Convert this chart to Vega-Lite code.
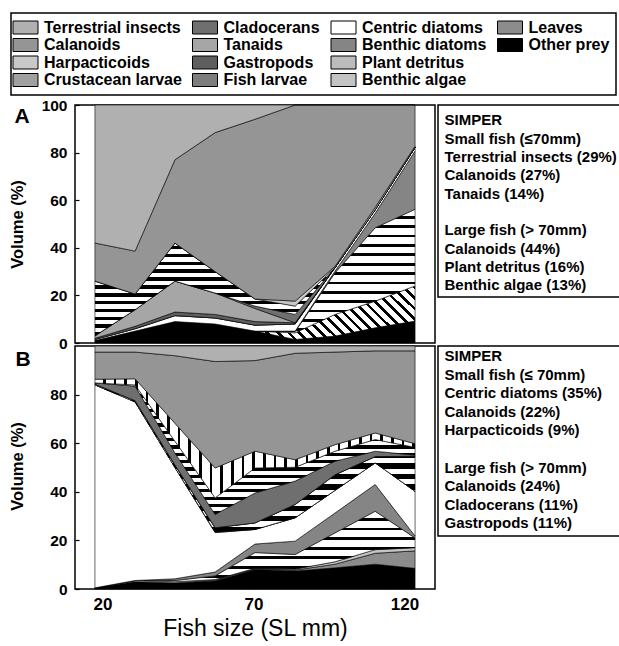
{
  "$schema": "https://vega.github.io/schema/vega-lite/v6.json",
  "background": "white",
  "padding": {"left": 8, "top": 12, "right": 0, "bottom": 0},
  "columns": 2,
  "spacing": {"row": 3, "column": 3},
  "bounds": "flush",
  "align": "each",
  "resolve": {"scale": {"fill": "shared"}, "legend": {"fill": "shared"}},
  "config": {
    "font": "Liberation Sans",
    "view": {"stroke": "black", "strokeWidth": 1.5},
    "axis": {"domain": false, "grid": false, "labelColor": "black", "titleColor": "black", "tickColor": "black", "labelFont": "Liberation Sans", "titleFont": "Liberation Sans"}
  },
  "datasets": {
    "stackOrder": [
      {"prey": "Other prey", "k": 0}, {"prey": "Leaves", "k": 1}, {"prey": "Benthic algae", "k": 2},
      {"prey": "Plant detritus", "k": 3}, {"prey": "Benthic diatoms", "k": 4}, {"prey": "Centric diatoms", "k": 5},
      {"prey": "Fish larvae", "k": 6}, {"prey": "Gastropods", "k": 7}, {"prey": "Tanaids", "k": 8},
      {"prey": "Cladocerans", "k": 9}, {"prey": "Crustacean larvae", "k": 10}, {"prey": "Harpacticoids", "k": 11},
      {"prey": "Calanoids", "k": 12}, {"prey": "Terrestrial insects", "k": 13}
    ],
    "panelA": [
      {"size": 17.5, "Other prey": 1, "Leaves": 0, "Benthic algae": 0, "Plant detritus": 0, "Benthic diatoms": 0, "Centric diatoms": 0.5, "Fish larvae": 0, "Gastropods": 0.5, "Tanaids": 1, "Cladocerans": 0, "Crustacean larvae": 23, "Harpacticoids": 0, "Calanoids": 16, "Terrestrial insects": 58},
      {"size": 30.8, "Other prey": 5, "Leaves": 0, "Benthic algae": 0, "Plant detritus": 0, "Benthic diatoms": 0, "Centric diatoms": 1, "Fish larvae": 0, "Gastropods": 1, "Tanaids": 7, "Cladocerans": 0, "Crustacean larvae": 6.6, "Harpacticoids": 0, "Calanoids": 18, "Terrestrial insects": 61.4},
      {"size": 44, "Other prey": 9, "Leaves": 0, "Benthic algae": 0, "Plant detritus": 0, "Benthic diatoms": 0, "Centric diatoms": 2.5, "Fish larvae": 0, "Gastropods": 1.5, "Tanaids": 13, "Cladocerans": 0, "Crustacean larvae": 16, "Harpacticoids": 0, "Calanoids": 35, "Terrestrial insects": 23},
      {"size": 57.3, "Other prey": 8, "Leaves": 0, "Benthic algae": 0, "Plant detritus": 0, "Benthic diatoms": 0, "Centric diatoms": 2.5, "Fish larvae": 0, "Gastropods": 1.5, "Tanaids": 9, "Cladocerans": 0, "Crustacean larvae": 9, "Harpacticoids": 0, "Calanoids": 58.4, "Terrestrial insects": 11.6},
      {"size": 70.5, "Other prey": 5, "Leaves": 0, "Benthic algae": 0, "Plant detritus": 0, "Benthic diatoms": 0, "Centric diatoms": 2.5, "Fish larvae": 0, "Gastropods": 1.5, "Tanaids": 5.5, "Cladocerans": 1, "Crustacean larvae": 3, "Harpacticoids": 0, "Calanoids": 75.5, "Terrestrial insects": 6},
      {"size": 83.8, "Other prey": 1.5, "Leaves": 0, "Benthic algae": 2.8, "Plant detritus": 0.5, "Benthic diatoms": 0.2, "Centric diatoms": 3, "Fish larvae": 0, "Gastropods": 0.5, "Tanaids": 0, "Cladocerans": 3.5, "Crustacean larvae": 3.5, "Harpacticoids": 2.1, "Calanoids": 82.4, "Terrestrial insects": 0},
      {"size": 97, "Other prey": 2.9, "Leaves": 0, "Benthic algae": 9.1, "Plant detritus": 17.5, "Benthic diatoms": 0.7, "Centric diatoms": 1.5, "Fish larvae": 0, "Gastropods": 0, "Tanaids": 0, "Cladocerans": 0, "Crustacean larvae": 0, "Harpacticoids": 0.5, "Calanoids": 67.8, "Terrestrial insects": 0},
      {"size": 110.3, "Other prey": 6.4, "Leaves": 0, "Benthic algae": 11.2, "Plant detritus": 30.8, "Benthic diatoms": 6.1, "Centric diatoms": 1.5, "Fish larvae": 0, "Gastropods": 0, "Tanaids": 0, "Cladocerans": 0, "Crustacean larvae": 0, "Harpacticoids": 1, "Calanoids": 43, "Terrestrial insects": 0},
      {"size": 123.5, "Other prey": 9.2, "Leaves": 0, "Benthic algae": 14.8, "Plant detritus": 32.2, "Benthic diatoms": 24.5, "Centric diatoms": 1.5, "Fish larvae": 0, "Gastropods": 0, "Tanaids": 0, "Cladocerans": 0, "Crustacean larvae": 0, "Harpacticoids": 0.5, "Calanoids": 17.3, "Terrestrial insects": 0}
    ],
    "panelB": [
      {"size": 17.5, "Other prey": 0.5, "Leaves": 0, "Benthic algae": 0, "Plant detritus": 0, "Benthic diatoms": 0, "Centric diatoms": 83.5, "Fish larvae": 0, "Gastropods": 0.3, "Tanaids": 0, "Cladocerans": 0.5, "Crustacean larvae": 0, "Harpacticoids": 1.5, "Calanoids": 11.2, "Terrestrial insects": 2.5},
      {"size": 30.8, "Other prey": 3, "Leaves": 0, "Benthic algae": 0.5, "Plant detritus": 0, "Benthic diatoms": 0, "Centric diatoms": 73.5, "Fish larvae": 0, "Gastropods": 0.5, "Tanaids": 0, "Cladocerans": 6, "Crustacean larvae": 0.5, "Harpacticoids": 2.5, "Calanoids": 11, "Terrestrial insects": 2.5},
      {"size": 44, "Other prey": 2.5, "Leaves": 0, "Benthic algae": 0.5, "Plant detritus": 0.5, "Benthic diatoms": 0.7, "Centric diatoms": 45.8, "Fish larvae": 0, "Gastropods": 1, "Tanaids": 0, "Cladocerans": 5, "Crustacean larvae": 4.8, "Harpacticoids": 7.4, "Calanoids": 27.8, "Terrestrial insects": 4},
      {"size": 57.3, "Other prey": 3.3, "Leaves": 0.3, "Benthic algae": 0.3, "Plant detritus": 1.5, "Benthic diatoms": 1.6, "Centric diatoms": 16.2, "Fish larvae": 0.3, "Gastropods": 1.7, "Tanaids": 0, "Cladocerans": 5.5, "Crustacean larvae": 6.8, "Harpacticoids": 12.3, "Calanoids": 43.8, "Terrestrial insects": 6.4},
      {"size": 70.5, "Other prey": 8, "Leaves": 0.3, "Benthic algae": 0.2, "Plant detritus": 6.5, "Benthic diatoms": 3.5, "Centric diatoms": 6, "Fish larvae": 0, "Gastropods": 2.7, "Tanaids": 0, "Cladocerans": 12.3, "Crustacean larvae": 10.3, "Harpacticoids": 6.9, "Calanoids": 37.3, "Terrestrial insects": 6},
      {"size": 83.8, "Other prey": 7.4, "Leaves": 0.4, "Benthic algae": 0.4, "Plant detritus": 6, "Benthic diatoms": 5.5, "Centric diatoms": 9.6, "Fish larvae": 0, "Gastropods": 5.5, "Tanaids": 0, "Cladocerans": 9.6, "Crustacean larvae": 5.7, "Harpacticoids": 3.1, "Calanoids": 43.8, "Terrestrial insects": 3},
      {"size": 97, "Other prey": 8.7, "Leaves": 1.5, "Benthic algae": 1, "Plant detritus": 11.9, "Benthic diatoms": 8.2, "Centric diatoms": 9.3, "Fish larvae": 0, "Gastropods": 6.4, "Tanaids": 0, "Cladocerans": 5.6, "Crustacean larvae": 4.1, "Harpacticoids": 2.7, "Calanoids": 38.1, "Terrestrial insects": 2.5},
      {"size": 110.3, "Other prey": 10.2, "Leaves": 4.5, "Benthic algae": 1.5, "Plant detritus": 15.8, "Benthic diatoms": 11, "Centric diatoms": 8.9, "Fish larvae": 0, "Gastropods": 2.6, "Tanaids": 0, "Cladocerans": 2.2, "Crustacean larvae": 4.8, "Harpacticoids": 2.7, "Calanoids": 33.8, "Terrestrial insects": 2},
      {"size": 123.5, "Other prey": 8.5, "Leaves": 7.2, "Benthic algae": 1.3, "Plant detritus": 4, "Benthic diatoms": 0.8, "Centric diatoms": 18.4, "Fish larvae": 0, "Gastropods": 14.4, "Tanaids": 0, "Cladocerans": 0.5, "Crustacean larvae": 3.2, "Harpacticoids": 1.5, "Calanoids": 38.2, "Terrestrial insects": 2}
    ],
    "simperA": [
      {"i": 0, "t": "SIMPER"},
      {"i": 1, "t": "Small fish (≤70mm)"},
      {"i": 2, "t": "Terrestrial insects (29%)"},
      {"i": 3, "t": "Calanoids (27%)"},
      {"i": 4, "t": "Tanaids (14%)"},
      {"i": 6, "t": "Large fish (> 70mm)"},
      {"i": 7, "t": "Calanoids (44%)"},
      {"i": 8, "t": "Plant detritus (16%)"},
      {"i": 9, "t": "Benthic algae (13%)"}
    ],
    "simperB": [
      {"i": 0, "t": "SIMPER"},
      {"i": 1, "t": "Small fish (≤ 70mm)"},
      {"i": 2, "t": "Centric diatoms (35%)"},
      {"i": 3, "t": "Calanoids (22%)"},
      {"i": 4, "t": "Harpacticoids (9%)"},
      {"i": 6, "t": "Large fish (> 70mm)"},
      {"i": 7, "t": "Calanoids (24%)"},
      {"i": 8, "t": "Cladocerans (11%)"},
      {"i": 9, "t": "Gastropods (11%)"}
    ]
  },
  "concat": [
    {
      "width": 360,
      "height": 238,
      "layer": [
        {
          "data": {"name": "panelA"},
          "transform": [
            {"fold": ["Other prey", "Leaves", "Benthic algae", "Plant detritus", "Benthic diatoms", "Centric diatoms", "Fish larvae", "Gastropods", "Tanaids", "Cladocerans", "Crustacean larvae", "Harpacticoids", "Calanoids", "Terrestrial insects"], "as": ["prey", "v"]},
            {"lookup": "prey", "from": {"data": {"name": "stackOrder"}, "key": "prey", "fields": ["k"]}}
          ],
          "mark": {"type": "area", "stroke": "black", "strokeWidth": 0.6, "interpolate": "linear", "opacity": 1},
          "encoding": {
            "x": {"field": "size", "type": "quantitative", "scale": {"domain": [10.9, 130.1], "nice": false, "zero": false}, "axis": null},
            "y": {"field": "v", "type": "quantitative", "stack": "zero", "scale": {"domain": [0, 100], "nice": false},
                  "axis": {"values": [0, 20, 40, 60, 80, 100], "title": "Volume (%)", "titleFontSize": 16.5, "titleFontWeight": "bold", "titleX": -50, "titleY": 119, "labelFontSize": 15.5, "labelFontWeight": "bold", "tickSize": -4, "tickWidth": 1.2, "labelPadding": 12}},
            "fill": {
              "condition": [
                {"test": "datum.prey === 'Plant detritus'", "value": {"gradient": "linear", "x1": 0, "y1": 0, "x2": 0, "y2": 1, "stops": [
                  {"offset": 0, "color": "#fff"}, {"offset": 0.05, "color": "#fff"}, {"offset": 0.05, "color": "#000"}, {"offset": 0.0714, "color": "#000"},
                  {"offset": 0.0714, "color": "#fff"}, {"offset": 0.1214, "color": "#fff"}, {"offset": 0.1214, "color": "#000"}, {"offset": 0.1429, "color": "#000"},
                  {"offset": 0.1429, "color": "#fff"}, {"offset": 0.1929, "color": "#fff"}, {"offset": 0.1929, "color": "#000"}, {"offset": 0.2143, "color": "#000"},
                  {"offset": 0.2143, "color": "#fff"}, {"offset": 0.2643, "color": "#fff"}, {"offset": 0.2643, "color": "#000"}, {"offset": 0.2857, "color": "#000"},
                  {"offset": 0.2857, "color": "#fff"}, {"offset": 0.3357, "color": "#fff"}, {"offset": 0.3357, "color": "#000"}, {"offset": 0.3571, "color": "#000"},
                  {"offset": 0.3571, "color": "#fff"}, {"offset": 0.4071, "color": "#fff"}, {"offset": 0.4071, "color": "#000"}, {"offset": 0.4286, "color": "#000"},
                  {"offset": 0.4286, "color": "#fff"}, {"offset": 0.4786, "color": "#fff"}, {"offset": 0.4786, "color": "#000"}, {"offset": 0.5, "color": "#000"},
                  {"offset": 0.5, "color": "#fff"}, {"offset": 0.55, "color": "#fff"}, {"offset": 0.55, "color": "#000"}, {"offset": 0.5714, "color": "#000"},
                  {"offset": 0.5714, "color": "#fff"}, {"offset": 0.6214, "color": "#fff"}, {"offset": 0.6214, "color": "#000"}, {"offset": 0.6429, "color": "#000"},
                  {"offset": 0.6429, "color": "#fff"}, {"offset": 0.6929, "color": "#fff"}, {"offset": 0.6929, "color": "#000"}, {"offset": 0.7143, "color": "#000"},
                  {"offset": 0.7143, "color": "#fff"}, {"offset": 0.7643, "color": "#fff"}, {"offset": 0.7643, "color": "#000"}, {"offset": 0.7857, "color": "#000"},
                  {"offset": 0.7857, "color": "#fff"}, {"offset": 0.8357, "color": "#fff"}, {"offset": 0.8357, "color": "#000"}, {"offset": 0.8571, "color": "#000"},
                  {"offset": 0.8571, "color": "#fff"}, {"offset": 0.9071, "color": "#fff"}, {"offset": 0.9071, "color": "#000"}, {"offset": 0.9286, "color": "#000"},
                  {"offset": 0.9286, "color": "#fff"}, {"offset": 0.9786, "color": "#fff"}, {"offset": 0.9786, "color": "#000"}, {"offset": 1, "color": "#000"}]}},
                {"test": "datum.prey === 'Crustacean larvae'", "value": {"gradient": "linear", "x1": 0, "y1": 0, "x2": 0, "y2": 1, "stops": [
                  {"offset": 0, "color": "#fff"}, {"offset": 0.0229, "color": "#fff"}, {"offset": 0.0229, "color": "#000"}, {"offset": 0.0417, "color": "#000"},
                  {"offset": 0.0417, "color": "#fff"}, {"offset": 0.0646, "color": "#fff"}, {"offset": 0.0646, "color": "#000"}, {"offset": 0.0833, "color": "#000"},
                  {"offset": 0.0833, "color": "#fff"}, {"offset": 0.1063, "color": "#fff"}, {"offset": 0.1063, "color": "#000"}, {"offset": 0.125, "color": "#000"},
                  {"offset": 0.125, "color": "#fff"}, {"offset": 0.1479, "color": "#fff"}, {"offset": 0.1479, "color": "#000"}, {"offset": 0.1667, "color": "#000"},
                  {"offset": 0.1667, "color": "#fff"}, {"offset": 0.1896, "color": "#fff"}, {"offset": 0.1896, "color": "#000"}, {"offset": 0.2083, "color": "#000"},
                  {"offset": 0.2083, "color": "#fff"}, {"offset": 0.2313, "color": "#fff"}, {"offset": 0.2313, "color": "#000"}, {"offset": 0.25, "color": "#000"},
                  {"offset": 0.25, "color": "#fff"}, {"offset": 0.2729, "color": "#fff"}, {"offset": 0.2729, "color": "#000"}, {"offset": 0.2917, "color": "#000"},
                  {"offset": 0.2917, "color": "#fff"}, {"offset": 0.3146, "color": "#fff"}, {"offset": 0.3146, "color": "#000"}, {"offset": 0.3333, "color": "#000"},
                  {"offset": 0.3333, "color": "#fff"}, {"offset": 0.3563, "color": "#fff"}, {"offset": 0.3563, "color": "#000"}, {"offset": 0.375, "color": "#000"},
                  {"offset": 0.375, "color": "#fff"}, {"offset": 0.3979, "color": "#fff"}, {"offset": 0.3979, "color": "#000"}, {"offset": 0.4167, "color": "#000"},
                  {"offset": 0.4167, "color": "#fff"}, {"offset": 0.4396, "color": "#fff"}, {"offset": 0.4396, "color": "#000"}, {"offset": 0.4583, "color": "#000"},
                  {"offset": 0.4583, "color": "#fff"}, {"offset": 0.4813, "color": "#fff"}, {"offset": 0.4813, "color": "#000"}, {"offset": 0.5, "color": "#000"},
                  {"offset": 0.5, "color": "#fff"}, {"offset": 0.5229, "color": "#fff"}, {"offset": 0.5229, "color": "#000"}, {"offset": 0.5417, "color": "#000"},
                  {"offset": 0.5417, "color": "#fff"}, {"offset": 0.5646, "color": "#fff"}, {"offset": 0.5646, "color": "#000"}, {"offset": 0.5833, "color": "#000"},
                  {"offset": 0.5833, "color": "#fff"}, {"offset": 0.6063, "color": "#fff"}, {"offset": 0.6063, "color": "#000"}, {"offset": 0.625, "color": "#000"},
                  {"offset": 0.625, "color": "#fff"}, {"offset": 0.6479, "color": "#fff"}, {"offset": 0.6479, "color": "#000"}, {"offset": 0.6667, "color": "#000"},
                  {"offset": 0.6667, "color": "#fff"}, {"offset": 0.6896, "color": "#fff"}, {"offset": 0.6896, "color": "#000"}, {"offset": 0.7083, "color": "#000"},
                  {"offset": 0.7083, "color": "#fff"}, {"offset": 0.7313, "color": "#fff"}, {"offset": 0.7313, "color": "#000"}, {"offset": 0.75, "color": "#000"},
                  {"offset": 0.75, "color": "#fff"}, {"offset": 0.7729, "color": "#fff"}, {"offset": 0.7729, "color": "#000"}, {"offset": 0.7917, "color": "#000"},
                  {"offset": 0.7917, "color": "#fff"}, {"offset": 0.8146, "color": "#fff"}, {"offset": 0.8146, "color": "#000"}, {"offset": 0.8333, "color": "#000"},
                  {"offset": 0.8333, "color": "#fff"}, {"offset": 0.8563, "color": "#fff"}, {"offset": 0.8563, "color": "#000"}, {"offset": 0.875, "color": "#000"},
                  {"offset": 0.875, "color": "#fff"}, {"offset": 0.8979, "color": "#fff"}, {"offset": 0.8979, "color": "#000"}, {"offset": 0.9167, "color": "#000"},
                  {"offset": 0.9167, "color": "#fff"}, {"offset": 0.9396, "color": "#fff"}, {"offset": 0.9396, "color": "#000"}, {"offset": 0.9583, "color": "#000"},
                  {"offset": 0.9583, "color": "#fff"}, {"offset": 0.9813, "color": "#fff"}, {"offset": 0.9813, "color": "#000"}, {"offset": 1, "color": "#000"}]}},
                {"test": "datum.prey === 'Benthic algae'", "value": {"gradient": "linear", "x1": 0, "y1": 1, "x2": 1.138, "y2": 0.804, "stops": [
                  {"offset": 0, "color": "#fff"}, {"offset": 0.0186, "color": "#fff"}, {"offset": 0.0186, "color": "#000"}, {"offset": 0.0286, "color": "#000"},
                  {"offset": 0.0286, "color": "#fff"}, {"offset": 0.0471, "color": "#fff"}, {"offset": 0.0471, "color": "#000"}, {"offset": 0.0571, "color": "#000"},
                  {"offset": 0.0571, "color": "#fff"}, {"offset": 0.0757, "color": "#fff"}, {"offset": 0.0757, "color": "#000"}, {"offset": 0.0857, "color": "#000"},
                  {"offset": 0.0857, "color": "#fff"}, {"offset": 0.1043, "color": "#fff"}, {"offset": 0.1043, "color": "#000"}, {"offset": 0.1143, "color": "#000"},
                  {"offset": 0.1143, "color": "#fff"}, {"offset": 0.1329, "color": "#fff"}, {"offset": 0.1329, "color": "#000"}, {"offset": 0.1429, "color": "#000"},
                  {"offset": 0.1429, "color": "#fff"}, {"offset": 0.1614, "color": "#fff"}, {"offset": 0.1614, "color": "#000"}, {"offset": 0.1714, "color": "#000"},
                  {"offset": 0.1714, "color": "#fff"}, {"offset": 0.19, "color": "#fff"}, {"offset": 0.19, "color": "#000"}, {"offset": 0.2, "color": "#000"},
                  {"offset": 0.2, "color": "#fff"}, {"offset": 0.2186, "color": "#fff"}, {"offset": 0.2186, "color": "#000"}, {"offset": 0.2286, "color": "#000"},
                  {"offset": 0.2286, "color": "#fff"}, {"offset": 0.2471, "color": "#fff"}, {"offset": 0.2471, "color": "#000"}, {"offset": 0.2571, "color": "#000"},
                  {"offset": 0.2571, "color": "#fff"}, {"offset": 0.2757, "color": "#fff"}, {"offset": 0.2757, "color": "#000"}, {"offset": 0.2857, "color": "#000"},
                  {"offset": 0.2857, "color": "#fff"}, {"offset": 0.3043, "color": "#fff"}, {"offset": 0.3043, "color": "#000"}, {"offset": 0.3143, "color": "#000"},
                  {"offset": 0.3143, "color": "#fff"}, {"offset": 0.3329, "color": "#fff"}, {"offset": 0.3329, "color": "#000"}, {"offset": 0.3429, "color": "#000"},
                  {"offset": 0.3429, "color": "#fff"}, {"offset": 0.3614, "color": "#fff"}, {"offset": 0.3614, "color": "#000"}, {"offset": 0.3714, "color": "#000"},
                  {"offset": 0.3714, "color": "#fff"}, {"offset": 0.39, "color": "#fff"}, {"offset": 0.39, "color": "#000"}, {"offset": 0.4, "color": "#000"},
                  {"offset": 0.4, "color": "#fff"}, {"offset": 0.4186, "color": "#fff"}, {"offset": 0.4186, "color": "#000"}, {"offset": 0.4286, "color": "#000"},
                  {"offset": 0.4286, "color": "#fff"}, {"offset": 0.4471, "color": "#fff"}, {"offset": 0.4471, "color": "#000"}, {"offset": 0.4571, "color": "#000"},
                  {"offset": 0.4571, "color": "#fff"}, {"offset": 0.4757, "color": "#fff"}, {"offset": 0.4757, "color": "#000"}, {"offset": 0.4857, "color": "#000"},
                  {"offset": 0.4857, "color": "#fff"}, {"offset": 0.5043, "color": "#fff"}, {"offset": 0.5043, "color": "#000"}, {"offset": 0.5143, "color": "#000"},
                  {"offset": 0.5143, "color": "#fff"}, {"offset": 0.5329, "color": "#fff"}, {"offset": 0.5329, "color": "#000"}, {"offset": 0.5429, "color": "#000"},
                  {"offset": 0.5429, "color": "#fff"}, {"offset": 0.5614, "color": "#fff"}, {"offset": 0.5614, "color": "#000"}, {"offset": 0.5714, "color": "#000"},
                  {"offset": 0.5714, "color": "#fff"}, {"offset": 0.59, "color": "#fff"}, {"offset": 0.59, "color": "#000"}, {"offset": 0.6, "color": "#000"},
                  {"offset": 0.6, "color": "#fff"}, {"offset": 0.6186, "color": "#fff"}, {"offset": 0.6186, "color": "#000"}, {"offset": 0.6286, "color": "#000"},
                  {"offset": 0.6286, "color": "#fff"}, {"offset": 0.6471, "color": "#fff"}, {"offset": 0.6471, "color": "#000"}, {"offset": 0.6571, "color": "#000"},
                  {"offset": 0.6571, "color": "#fff"}, {"offset": 0.6757, "color": "#fff"}, {"offset": 0.6757, "color": "#000"}, {"offset": 0.6857, "color": "#000"},
                  {"offset": 0.6857, "color": "#fff"}, {"offset": 0.7043, "color": "#fff"}, {"offset": 0.7043, "color": "#000"}, {"offset": 0.7143, "color": "#000"},
                  {"offset": 0.7143, "color": "#fff"}, {"offset": 0.7329, "color": "#fff"}, {"offset": 0.7329, "color": "#000"}, {"offset": 0.7429, "color": "#000"},
                  {"offset": 0.7429, "color": "#fff"}, {"offset": 0.7614, "color": "#fff"}, {"offset": 0.7614, "color": "#000"}, {"offset": 0.7714, "color": "#000"},
                  {"offset": 0.7714, "color": "#fff"}, {"offset": 0.79, "color": "#fff"}, {"offset": 0.79, "color": "#000"}, {"offset": 0.8, "color": "#000"},
                  {"offset": 0.8, "color": "#fff"}, {"offset": 0.8186, "color": "#fff"}, {"offset": 0.8186, "color": "#000"}, {"offset": 0.8286, "color": "#000"},
                  {"offset": 0.8286, "color": "#fff"}, {"offset": 0.8471, "color": "#fff"}, {"offset": 0.8471, "color": "#000"}, {"offset": 0.8571, "color": "#000"},
                  {"offset": 0.8571, "color": "#fff"}, {"offset": 0.8757, "color": "#fff"}, {"offset": 0.8757, "color": "#000"}, {"offset": 0.8857, "color": "#000"},
                  {"offset": 0.8857, "color": "#fff"}, {"offset": 0.9043, "color": "#fff"}, {"offset": 0.9043, "color": "#000"}, {"offset": 0.9143, "color": "#000"},
                  {"offset": 0.9143, "color": "#fff"}, {"offset": 0.9329, "color": "#fff"}, {"offset": 0.9329, "color": "#000"}, {"offset": 0.9429, "color": "#000"},
                  {"offset": 0.9429, "color": "#fff"}, {"offset": 0.9614, "color": "#fff"}, {"offset": 0.9614, "color": "#000"}, {"offset": 0.9714, "color": "#000"},
                  {"offset": 0.9714, "color": "#fff"}, {"offset": 0.99, "color": "#fff"}, {"offset": 0.99, "color": "#000"}, {"offset": 1, "color": "#000"}]}}
              ],
              "field": "prey", "type": "nominal",
              "scale": {"domain": ["Terrestrial insects", "Calanoids", "Harpacticoids", "Crustacean larvae", "Cladocerans", "Tanaids", "Gastropods", "Fish larvae", "Centric diatoms", "Benthic diatoms", "Plant detritus", "Benthic algae", "Leaves", "Other prey", " "],
                        "range": ["#b0b0b0", "#959595", "#c8c8c8", "#a0a0a0", "#6f6f6f", "#a6a6a6", "#5e5e5e", "#7d7d7d", "#ffffff", "#858585", "#bcbcbc", "#c4c4c4", "#8c8c8c", "#000000", "#ffffff"]},
              "legend": {"title": null, "orient": "none", "legendX": -64, "legendY": -92, "columns": 4, "columnPadding": 8.5, "rowPadding": 0.5, "padding": 6,
                         "strokeColor": "black", "symbolType": "M-1.5625,-0.8125H1.5625V0.8125H-1.5625Z", "symbolSize": 256, "symbolStrokeColor": "black", "symbolStrokeWidth": 1, "symbolOpacity": 1,
                         "labelFont": "Liberation Sans", "labelFontSize": 16, "labelFontWeight": "bold", "labelColor": "black", "labelOffset": 10, "labelLimit": 400,
                         "encode": {"legend": {"update": {"strokeWidth": {"value": 1.5}}},
                                    "symbols": {"update": {"strokeOpacity": [{"test": "datum.value === ' '", "value": 0}, {"value": 1}], "fillOpacity": [{"test": "datum.value === ' '", "value": 0}, {"value": 1}]}}}}
            },
            "order": {"field": "k", "type": "quantitative", "sort": "ascending"}
          }
        },
        {
          "data": {"values": [{"label": "A"}]},
          "mark": {"type": "text", "fontSize": 21, "fontWeight": "bold", "align": "center", "baseline": "alphabetic", "color": "black"},
          "encoding": {
            "x": {"datum": -6.6, "type": "quantitative", "scale": {"domain": [10.9, 130.1], "nice": false, "zero": false}},
            "y": {"datum": 92.4, "type": "quantitative", "scale": {"domain": [0, 100], "nice": false}},
            "text": {"field": "label"}
          }
        }
      ]
    },
    {
      "width": 182,
      "height": 192,
      "data": {"name": "simperA"},
      "mark": {"type": "text", "align": "left", "baseline": "middle", "fontSize": 15, "fontWeight": "bold", "dx": 6.5, "color": "black"},
      "encoding": {
        "x": {"datum": 0, "type": "quantitative", "scale": {"domain": [0, 1]}, "axis": null},
        "y": {"field": "i", "type": "quantitative", "scale": {"domain": [-0.835, 9.64], "reverse": true, "nice": false, "zero": false}, "axis": null},
        "text": {"field": "t"}
      }
    },
    {
      "width": 360,
      "height": 243,
      "layer": [
        {
          "data": {"name": "panelB"},
          "transform": [
            {"fold": ["Other prey", "Leaves", "Benthic algae", "Plant detritus", "Benthic diatoms", "Centric diatoms", "Fish larvae", "Gastropods", "Tanaids", "Cladocerans", "Crustacean larvae", "Harpacticoids", "Calanoids", "Terrestrial insects"], "as": ["prey", "v"]},
            {"lookup": "prey", "from": {"data": {"name": "stackOrder"}, "key": "prey", "fields": ["k"]}}
          ],
          "mark": {"type": "area", "stroke": "black", "strokeWidth": 0.6, "interpolate": "linear", "opacity": 1},
          "encoding": {
            "x": {"field": "size", "type": "quantitative", "scale": {"domain": [10.9, 130.1], "nice": false, "zero": false},
                  "axis": {"values": [20, 70, 120], "title": "Fish size (SL mm)", "titleFontSize": 23, "titleFontWeight": "normal", "titlePadding": 5, "labelFontSize": 17, "labelFontWeight": "bold", "ticks": false, "labelPadding": 7}},
            "y": {"field": "v", "type": "quantitative", "stack": "zero", "scale": {"domain": [0, 100], "nice": false},
                  "axis": {"values": [0, 20, 40, 60, 80], "title": "Volume (%)", "titleFontSize": 16.5, "titleFontWeight": "bold", "titleX": -50, "titleY": 120, "labelFontSize": 15.5, "labelFontWeight": "bold", "tickSize": -4, "tickWidth": 1.2, "labelPadding": 12}},
            "fill": {
              "condition": [
                {"test": "datum.prey === 'Plant detritus'", "value": {"gradient": "linear", "x1": 0, "y1": 0, "x2": 0, "y2": 1, "stops": [
                  {"offset": 0, "color": "#fff"}, {"offset": 0.0875, "color": "#fff"}, {"offset": 0.0875, "color": "#000"}, {"offset": 0.125, "color": "#000"},
                  {"offset": 0.125, "color": "#fff"}, {"offset": 0.2125, "color": "#fff"}, {"offset": 0.2125, "color": "#000"}, {"offset": 0.25, "color": "#000"},
                  {"offset": 0.25, "color": "#fff"}, {"offset": 0.3375, "color": "#fff"}, {"offset": 0.3375, "color": "#000"}, {"offset": 0.375, "color": "#000"},
                  {"offset": 0.375, "color": "#fff"}, {"offset": 0.4625, "color": "#fff"}, {"offset": 0.4625, "color": "#000"}, {"offset": 0.5, "color": "#000"},
                  {"offset": 0.5, "color": "#fff"}, {"offset": 0.5875, "color": "#fff"}, {"offset": 0.5875, "color": "#000"}, {"offset": 0.625, "color": "#000"},
                  {"offset": 0.625, "color": "#fff"}, {"offset": 0.7125, "color": "#fff"}, {"offset": 0.7125, "color": "#000"}, {"offset": 0.75, "color": "#000"},
                  {"offset": 0.75, "color": "#fff"}, {"offset": 0.8375, "color": "#fff"}, {"offset": 0.8375, "color": "#000"}, {"offset": 0.875, "color": "#000"},
                  {"offset": 0.875, "color": "#fff"}, {"offset": 0.9625, "color": "#fff"}, {"offset": 0.9625, "color": "#000"}, {"offset": 1, "color": "#000"}]}},
                {"test": "datum.prey === 'Crustacean larvae'", "value": {"gradient": "linear", "x1": 0, "y1": 0, "x2": 0, "y2": 1, "stops": [
                  {"offset": 0, "color": "#fff"}, {"offset": 0.0306, "color": "#fff"}, {"offset": 0.0306, "color": "#000"}, {"offset": 0.0556, "color": "#000"},
                  {"offset": 0.0556, "color": "#fff"}, {"offset": 0.0861, "color": "#fff"}, {"offset": 0.0861, "color": "#000"}, {"offset": 0.1111, "color": "#000"},
                  {"offset": 0.1111, "color": "#fff"}, {"offset": 0.1417, "color": "#fff"}, {"offset": 0.1417, "color": "#000"}, {"offset": 0.1667, "color": "#000"},
                  {"offset": 0.1667, "color": "#fff"}, {"offset": 0.1972, "color": "#fff"}, {"offset": 0.1972, "color": "#000"}, {"offset": 0.2222, "color": "#000"},
                  {"offset": 0.2222, "color": "#fff"}, {"offset": 0.2528, "color": "#fff"}, {"offset": 0.2528, "color": "#000"}, {"offset": 0.2778, "color": "#000"},
                  {"offset": 0.2778, "color": "#fff"}, {"offset": 0.3083, "color": "#fff"}, {"offset": 0.3083, "color": "#000"}, {"offset": 0.3333, "color": "#000"},
                  {"offset": 0.3333, "color": "#fff"}, {"offset": 0.3639, "color": "#fff"}, {"offset": 0.3639, "color": "#000"}, {"offset": 0.3889, "color": "#000"},
                  {"offset": 0.3889, "color": "#fff"}, {"offset": 0.4194, "color": "#fff"}, {"offset": 0.4194, "color": "#000"}, {"offset": 0.4444, "color": "#000"},
                  {"offset": 0.4444, "color": "#fff"}, {"offset": 0.475, "color": "#fff"}, {"offset": 0.475, "color": "#000"}, {"offset": 0.5, "color": "#000"},
                  {"offset": 0.5, "color": "#fff"}, {"offset": 0.5306, "color": "#fff"}, {"offset": 0.5306, "color": "#000"}, {"offset": 0.5556, "color": "#000"},
                  {"offset": 0.5556, "color": "#fff"}, {"offset": 0.5861, "color": "#fff"}, {"offset": 0.5861, "color": "#000"}, {"offset": 0.6111, "color": "#000"},
                  {"offset": 0.6111, "color": "#fff"}, {"offset": 0.6417, "color": "#fff"}, {"offset": 0.6417, "color": "#000"}, {"offset": 0.6667, "color": "#000"},
                  {"offset": 0.6667, "color": "#fff"}, {"offset": 0.6972, "color": "#fff"}, {"offset": 0.6972, "color": "#000"}, {"offset": 0.7222, "color": "#000"},
                  {"offset": 0.7222, "color": "#fff"}, {"offset": 0.7528, "color": "#fff"}, {"offset": 0.7528, "color": "#000"}, {"offset": 0.7778, "color": "#000"},
                  {"offset": 0.7778, "color": "#fff"}, {"offset": 0.8083, "color": "#fff"}, {"offset": 0.8083, "color": "#000"}, {"offset": 0.8333, "color": "#000"},
                  {"offset": 0.8333, "color": "#fff"}, {"offset": 0.8639, "color": "#fff"}, {"offset": 0.8639, "color": "#000"}, {"offset": 0.8889, "color": "#000"},
                  {"offset": 0.8889, "color": "#fff"}, {"offset": 0.9194, "color": "#fff"}, {"offset": 0.9194, "color": "#000"}, {"offset": 0.9444, "color": "#000"},
                  {"offset": 0.9444, "color": "#fff"}, {"offset": 0.975, "color": "#fff"}, {"offset": 0.975, "color": "#000"}, {"offset": 1, "color": "#000"}]}},
                {"test": "datum.prey === 'Gastropods'", "value": {"gradient": "linear", "x1": 0, "y1": 0, "x2": 0, "y2": 1, "stops": [
                  {"offset": 0, "color": "#fff"}, {"offset": 0.0357, "color": "#fff"}, {"offset": 0.0357, "color": "#000"}, {"offset": 0.0714, "color": "#000"},
                  {"offset": 0.0714, "color": "#fff"}, {"offset": 0.1071, "color": "#fff"}, {"offset": 0.1071, "color": "#000"}, {"offset": 0.1429, "color": "#000"},
                  {"offset": 0.1429, "color": "#fff"}, {"offset": 0.1786, "color": "#fff"}, {"offset": 0.1786, "color": "#000"}, {"offset": 0.2143, "color": "#000"},
                  {"offset": 0.2143, "color": "#fff"}, {"offset": 0.25, "color": "#fff"}, {"offset": 0.25, "color": "#000"}, {"offset": 0.2857, "color": "#000"},
                  {"offset": 0.2857, "color": "#fff"}, {"offset": 0.3214, "color": "#fff"}, {"offset": 0.3214, "color": "#000"}, {"offset": 0.3571, "color": "#000"},
                  {"offset": 0.3571, "color": "#fff"}, {"offset": 0.3929, "color": "#fff"}, {"offset": 0.3929, "color": "#000"}, {"offset": 0.4286, "color": "#000"},
                  {"offset": 0.4286, "color": "#fff"}, {"offset": 0.4643, "color": "#fff"}, {"offset": 0.4643, "color": "#000"}, {"offset": 0.5, "color": "#000"},
                  {"offset": 0.5, "color": "#fff"}, {"offset": 0.5357, "color": "#fff"}, {"offset": 0.5357, "color": "#000"}, {"offset": 0.5714, "color": "#000"},
                  {"offset": 0.5714, "color": "#fff"}, {"offset": 0.6071, "color": "#fff"}, {"offset": 0.6071, "color": "#000"}, {"offset": 0.6429, "color": "#000"},
                  {"offset": 0.6429, "color": "#fff"}, {"offset": 0.6786, "color": "#fff"}, {"offset": 0.6786, "color": "#000"}, {"offset": 0.7143, "color": "#000"},
                  {"offset": 0.7143, "color": "#fff"}, {"offset": 0.75, "color": "#fff"}, {"offset": 0.75, "color": "#000"}, {"offset": 0.7857, "color": "#000"},
                  {"offset": 0.7857, "color": "#fff"}, {"offset": 0.8214, "color": "#fff"}, {"offset": 0.8214, "color": "#000"}, {"offset": 0.8571, "color": "#000"},
                  {"offset": 0.8571, "color": "#fff"}, {"offset": 0.8929, "color": "#fff"}, {"offset": 0.8929, "color": "#000"}, {"offset": 0.9286, "color": "#000"},
                  {"offset": 0.9286, "color": "#fff"}, {"offset": 0.9643, "color": "#fff"}, {"offset": 0.9643, "color": "#000"}, {"offset": 1, "color": "#000"}]}},
                {"test": "datum.prey === 'Harpacticoids'", "value": {"gradient": "linear", "x1": 0, "y1": 0, "x2": 1, "y2": 0, "stops": [
                  {"offset": 0, "color": "#fff"}, {"offset": 0.025, "color": "#fff"}, {"offset": 0.025, "color": "#000"}, {"offset": 0.0333, "color": "#000"},
                  {"offset": 0.0333, "color": "#fff"}, {"offset": 0.0583, "color": "#fff"}, {"offset": 0.0583, "color": "#000"}, {"offset": 0.0667, "color": "#000"},
                  {"offset": 0.0667, "color": "#fff"}, {"offset": 0.0917, "color": "#fff"}, {"offset": 0.0917, "color": "#000"}, {"offset": 0.1, "color": "#000"},
                  {"offset": 0.1, "color": "#fff"}, {"offset": 0.125, "color": "#fff"}, {"offset": 0.125, "color": "#000"}, {"offset": 0.1333, "color": "#000"},
                  {"offset": 0.1333, "color": "#fff"}, {"offset": 0.1583, "color": "#fff"}, {"offset": 0.1583, "color": "#000"}, {"offset": 0.1667, "color": "#000"},
                  {"offset": 0.1667, "color": "#fff"}, {"offset": 0.1917, "color": "#fff"}, {"offset": 0.1917, "color": "#000"}, {"offset": 0.2, "color": "#000"},
                  {"offset": 0.2, "color": "#fff"}, {"offset": 0.225, "color": "#fff"}, {"offset": 0.225, "color": "#000"}, {"offset": 0.2333, "color": "#000"},
                  {"offset": 0.2333, "color": "#fff"}, {"offset": 0.2583, "color": "#fff"}, {"offset": 0.2583, "color": "#000"}, {"offset": 0.2667, "color": "#000"},
                  {"offset": 0.2667, "color": "#fff"}, {"offset": 0.2917, "color": "#fff"}, {"offset": 0.2917, "color": "#000"}, {"offset": 0.3, "color": "#000"},
                  {"offset": 0.3, "color": "#fff"}, {"offset": 0.325, "color": "#fff"}, {"offset": 0.325, "color": "#000"}, {"offset": 0.3333, "color": "#000"},
                  {"offset": 0.3333, "color": "#fff"}, {"offset": 0.3583, "color": "#fff"}, {"offset": 0.3583, "color": "#000"}, {"offset": 0.3667, "color": "#000"},
                  {"offset": 0.3667, "color": "#fff"}, {"offset": 0.3917, "color": "#fff"}, {"offset": 0.3917, "color": "#000"}, {"offset": 0.4, "color": "#000"},
                  {"offset": 0.4, "color": "#fff"}, {"offset": 0.425, "color": "#fff"}, {"offset": 0.425, "color": "#000"}, {"offset": 0.4333, "color": "#000"},
                  {"offset": 0.4333, "color": "#fff"}, {"offset": 0.4583, "color": "#fff"}, {"offset": 0.4583, "color": "#000"}, {"offset": 0.4667, "color": "#000"},
                  {"offset": 0.4667, "color": "#fff"}, {"offset": 0.4917, "color": "#fff"}, {"offset": 0.4917, "color": "#000"}, {"offset": 0.5, "color": "#000"},
                  {"offset": 0.5, "color": "#fff"}, {"offset": 0.525, "color": "#fff"}, {"offset": 0.525, "color": "#000"}, {"offset": 0.5333, "color": "#000"},
                  {"offset": 0.5333, "color": "#fff"}, {"offset": 0.5583, "color": "#fff"}, {"offset": 0.5583, "color": "#000"}, {"offset": 0.5667, "color": "#000"},
                  {"offset": 0.5667, "color": "#fff"}, {"offset": 0.5917, "color": "#fff"}, {"offset": 0.5917, "color": "#000"}, {"offset": 0.6, "color": "#000"},
                  {"offset": 0.6, "color": "#fff"}, {"offset": 0.625, "color": "#fff"}, {"offset": 0.625, "color": "#000"}, {"offset": 0.6333, "color": "#000"},
                  {"offset": 0.6333, "color": "#fff"}, {"offset": 0.6583, "color": "#fff"}, {"offset": 0.6583, "color": "#000"}, {"offset": 0.6667, "color": "#000"},
                  {"offset": 0.6667, "color": "#fff"}, {"offset": 0.6917, "color": "#fff"}, {"offset": 0.6917, "color": "#000"}, {"offset": 0.7, "color": "#000"},
                  {"offset": 0.7, "color": "#fff"}, {"offset": 0.725, "color": "#fff"}, {"offset": 0.725, "color": "#000"}, {"offset": 0.7333, "color": "#000"},
                  {"offset": 0.7333, "color": "#fff"}, {"offset": 0.7583, "color": "#fff"}, {"offset": 0.7583, "color": "#000"}, {"offset": 0.7667, "color": "#000"},
                  {"offset": 0.7667, "color": "#fff"}, {"offset": 0.7917, "color": "#fff"}, {"offset": 0.7917, "color": "#000"}, {"offset": 0.8, "color": "#000"},
                  {"offset": 0.8, "color": "#fff"}, {"offset": 0.825, "color": "#fff"}, {"offset": 0.825, "color": "#000"}, {"offset": 0.8333, "color": "#000"},
                  {"offset": 0.8333, "color": "#fff"}, {"offset": 0.8583, "color": "#fff"}, {"offset": 0.8583, "color": "#000"}, {"offset": 0.8667, "color": "#000"},
                  {"offset": 0.8667, "color": "#fff"}, {"offset": 0.8917, "color": "#fff"}, {"offset": 0.8917, "color": "#000"}, {"offset": 0.9, "color": "#000"},
                  {"offset": 0.9, "color": "#fff"}, {"offset": 0.925, "color": "#fff"}, {"offset": 0.925, "color": "#000"}, {"offset": 0.9333, "color": "#000"},
                  {"offset": 0.9333, "color": "#fff"}, {"offset": 0.9583, "color": "#fff"}, {"offset": 0.9583, "color": "#000"}, {"offset": 0.9667, "color": "#000"},
                  {"offset": 0.9667, "color": "#fff"}, {"offset": 0.9917, "color": "#fff"}, {"offset": 0.9917, "color": "#000"}, {"offset": 1, "color": "#000"}]}}
              ],
              "field": "prey", "type": "nominal",
              "scale": {"domain": ["Terrestrial insects", "Calanoids", "Harpacticoids", "Crustacean larvae", "Cladocerans", "Tanaids", "Gastropods", "Fish larvae", "Centric diatoms", "Benthic diatoms", "Plant detritus", "Benthic algae", "Leaves", "Other prey", " "],
                        "range": ["#b0b0b0", "#959595", "#c8c8c8", "#a0a0a0", "#6f6f6f", "#a6a6a6", "#5e5e5e", "#7d7d7d", "#ffffff", "#858585", "#bcbcbc", "#c4c4c4", "#8c8c8c", "#000000", "#ffffff"]}
            },
            "order": {"field": "k", "type": "quantitative", "sort": "ascending"}
          }
        },
        {
          "data": {"values": [{"label": "B"}]},
          "mark": {"type": "text", "fontSize": 21, "fontWeight": "bold", "align": "center", "baseline": "alphabetic", "color": "black"},
          "encoding": {
            "x": {"datum": -6.3, "type": "quantitative", "scale": {"domain": [10.9, 130.1], "nice": false, "zero": false}},
            "y": {"datum": 91.6, "type": "quantitative", "scale": {"domain": [0, 100], "nice": false}},
            "text": {"field": "label"}
          }
        }
      ]
    },
    {
      "width": 182,
      "height": 190,
      "data": {"name": "simperB"},
      "mark": {"type": "text", "align": "left", "baseline": "middle", "fontSize": 15, "fontWeight": "bold", "dx": 6.5, "color": "black"},
      "encoding": {
        "x": {"datum": 0, "type": "quantitative", "scale": {"domain": [0, 1]}, "axis": null},
        "y": {"field": "i", "type": "quantitative", "scale": {"domain": [-0.538, 9.677], "reverse": true, "nice": false, "zero": false}, "axis": null},
        "text": {"field": "t"}
      }
    }
  ]
}
